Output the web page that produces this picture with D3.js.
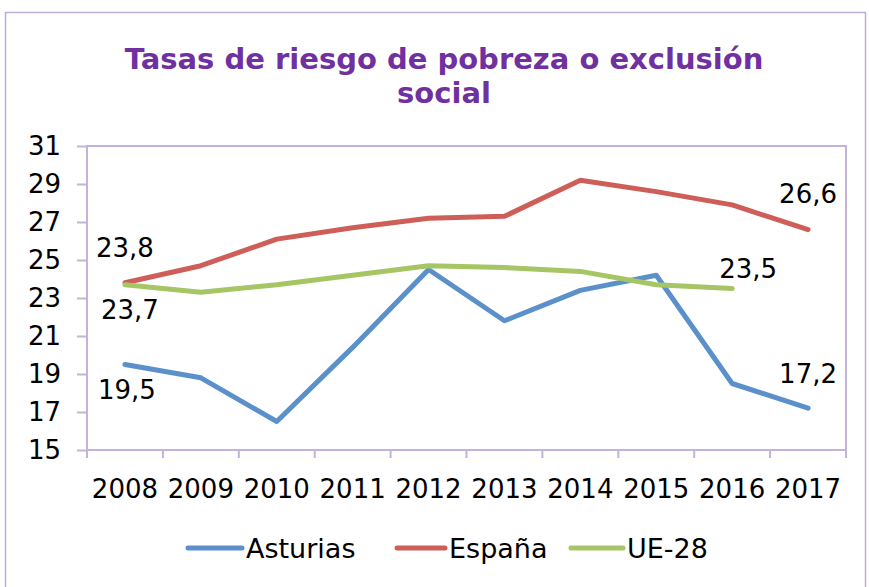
<!DOCTYPE html>
<html>
<head>
<meta charset="utf-8">
<script src="https://cdn.jsdelivr.net/npm/d3@7"></script>
<style>
  body { margin: 0; background: #fff; }
  svg { display: block; font-family: 'DejaVu Sans', Verdana, sans-serif; }
</style>
</head>
<body>
<div id="chart"></div>
<script>
// data
const years = ['2008', '2009', '2010', '2011', '2012', '2013', '2014', '2015', '2016', '2017'];
const asturias = [19.5, 18.8, 16.5, 20.4, 24.5, 21.8, 23.4, 24.2, 18.5, 17.2];
const espana = [23.8, 24.7, 26.1, 26.7, 27.2, 27.3, 29.2, 28.6, 27.9, 26.6];
const ue28 = [23.7, 23.3, 23.7, 24.2, 24.7, 24.6, 24.4, 23.7, 23.5];
const yTicks = [15, 17, 19, 21, 23, 25, 27, 29, 31];

const series = [
  { name: 'Asturias', values: asturias, color: '#5b90cb' },
  { name: 'España', values: espana, color: '#cd5f58' },
  { name: 'UE-28', values: ue28, color: '#a6c565' }
];

// which points carry a value label, and where it sits relative to the point
const labels = [
  { s: 0, i: 0, dx: 2, dy: 25 },
  { s: 0, i: 9, dx: 0, dy: -35 },
  { s: 1, i: 0, dx: 0, dy: -35 },
  { s: 1, i: 9, dx: 0, dy: -36 },
  { s: 2, i: 0, dx: 5, dy: 25 },
  { s: 2, i: 8, dx: 16, dy: -20 }
];

const W = 869, H = 587;
const margin = { top: 146, right: 23, bottom: 137, left: 87 };
const width = W - margin.left - margin.right;
const height = H - margin.top - margin.bottom;
const axisColor = '#c3b3da';
const fmt = v => String(v).replace('.', ',');

const svg = d3.select('#chart').append('svg')
  .attr('width', W)
  .attr('height', H);

// outer frame
svg.append('rect')
  .attr('x', 5.5).attr('y', 12.5)
  .attr('width', 860).attr('height', 590)
  .attr('fill', 'none')
  .attr('stroke', '#c0aad6')
  .attr('stroke-width', 1.5);

// title
svg.append('text')
  .attr('x', 444).attr('y', 69)
  .attr('text-anchor', 'middle')
  .attr('fill', '#7030a0')
  .attr('font-weight', 'bold')
  .attr('font-size', '29px')
  .selectAll('tspan')
  .data(['Tasas de riesgo de pobreza o exclusión', 'social'])
  .join('tspan')
    .attr('x', 444)
    .attr('dy', (d, i) => i ? 34 : 0)
    .text(d => d);

const chart = svg.append('g')
  .attr('transform', `translate(${margin.left},${margin.top})`);

const x = d3.scaleBand().domain(years).range([0, width]);
const y = d3.scaleLinear().domain([15, 31]).range([height, 0]);

// plot area frame
chart.append('rect')
  .attr('width', width).attr('height', height)
  .attr('fill', 'none')
  .attr('stroke', axisColor)
  .attr('stroke-width', 2);

// y axis
const yAxis = chart.append('g')
  .call(d3.axisLeft(y).tickValues(yTicks).tickSize(10).tickPadding(16).tickFormat(d => d));
yAxis.select('.domain').remove();
yAxis.selectAll('line').attr('stroke', axisColor).attr('stroke-width', 2);
yAxis.selectAll('text')
  .attr('font-size', '26px')
  .attr('font-family', 'DejaVu Sans, Verdana, sans-serif')
  .attr('fill', '#000');

// x axis: ticks on category boundaries, labels in the middle
const xAxis = chart.append('g').attr('transform', `translate(0,${height})`);
xAxis.selectAll('line')
  .data(d3.range(years.length + 1))
  .join('line')
    .attr('x1', i => i * x.step()).attr('x2', i => i * x.step())
    .attr('y1', 0).attr('y2', 8)
    .attr('stroke', axisColor)
    .attr('stroke-width', 2);
xAxis.selectAll('text')
  .data(years)
  .join('text')
    .attr('x', d => x(d) + x.bandwidth() / 2)
    .attr('y', 48)
    .attr('text-anchor', 'middle')
    .attr('font-size', '26px')
    .attr('fill', '#000')
    .text(d => d);

// lines
const line = d3.line()
  .x((d, i) => x(years[i]) + x.bandwidth() / 2)
  .y(d => y(d));

chart.selectAll('.series')
  .data(series)
  .join('path')
    .attr('class', 'series')
    .attr('d', d => line(d.values))
    .attr('fill', 'none')
    .attr('stroke', d => d.color)
    .attr('stroke-width', 5)
    .attr('stroke-linejoin', 'round')
    .attr('stroke-linecap', 'round');

// value labels
chart.selectAll('.val')
  .data(labels)
  .join('text')
    .attr('class', 'val')
    .attr('x', d => x(years[d.i]) + x.bandwidth() / 2 + d.dx)
    .attr('y', d => y(series[d.s].values[d.i]) + d.dy)
    .attr('dy', '0.36em')
    .attr('text-anchor', 'middle')
    .attr('font-size', '26px')
    .attr('fill', '#000')
    .text(d => fmt(series[d.s].values[d.i]));

// legend
const legendItems = [
  { x: 188, w: 54 },
  { x: 397, w: 48 },
  { x: 571, w: 52 }
];
const legend = svg.append('g').attr('transform', 'translate(0,548)');
const item = legend.selectAll('g')
  .data(series)
  .join('g')
    .attr('transform', (d, i) => `translate(${legendItems[i].x},0)`);
item.append('line')
  .attr('x1', 0).attr('x2', (d, i) => legendItems[i].w)
  .attr('stroke', d => d.color)
  .attr('stroke-width', 5)
  .attr('stroke-linecap', 'round');
item.append('text')
  .attr('x', (d, i) => legendItems[i].w + 4)
  .attr('dy', '0.36em')
  .attr('font-size', '27px')
  .attr('fill', '#000')
  .text(d => d.name);
</script>
</body>
</html>
